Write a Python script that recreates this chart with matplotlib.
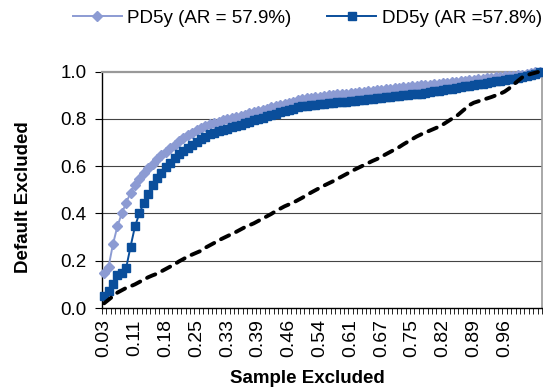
import numpy as np
import matplotlib
matplotlib.use("Agg")
import matplotlib.pyplot as plt
from matplotlib.ticker import FixedLocator

plt.rcParams['font.family'] = ['Liberation Sans', 'DejaVu Sans']

# x category labels (every 7th category is labelled)
tick_labels = ["0.03", "0.11", "0.18", "0.25", "0.33", "0.39", "0.46",
               "0.54", "0.61", "0.67", "0.75", "0.82", "0.89", "0.96"]
label_step = 7
n_cat = 100

pd5y = [0.150, 0.175, 0.270, 0.345, 0.400, 0.445, 0.488, 0.520, 0.545, 0.570,
        0.590, 0.610, 0.630, 0.647, 0.661, 0.675, 0.690, 0.705, 0.720, 0.732,
        0.742, 0.752, 0.760, 0.768, 0.776, 0.782, 0.787, 0.793, 0.798, 0.803,
        0.808, 0.813, 0.818, 0.823, 0.828, 0.833, 0.838, 0.843, 0.848, 0.853,
        0.858, 0.863, 0.868, 0.873, 0.878, 0.883, 0.886, 0.889, 0.892, 0.894,
        0.897, 0.899, 0.901, 0.903, 0.905, 0.907, 0.909, 0.911, 0.913, 0.915,
        0.917, 0.919, 0.921, 0.923, 0.925, 0.927, 0.929, 0.931, 0.933, 0.935,
        0.937, 0.939, 0.941, 0.943, 0.945, 0.947, 0.949, 0.951, 0.953, 0.955,
        0.957, 0.959, 0.961, 0.963, 0.965, 0.967, 0.969, 0.971, 0.973, 0.975,
        0.977, 0.979, 0.981, 0.983, 0.985, 0.987, 0.990, 0.993, 0.996, 1.000]

dd5y = [0.050, 0.070, 0.100, 0.140, 0.150, 0.170, 0.260, 0.345, 0.400, 0.445,
        0.480, 0.520, 0.548, 0.570, 0.595, 0.615, 0.635, 0.652, 0.665, 0.678,
        0.690, 0.703, 0.715, 0.725, 0.735, 0.741, 0.747, 0.753, 0.759, 0.765,
        0.770, 0.775, 0.781, 0.787, 0.794, 0.800, 0.805, 0.811, 0.817, 0.822,
        0.828, 0.833, 0.838, 0.843, 0.848, 0.853, 0.855, 0.857, 0.859, 0.861,
        0.863, 0.865, 0.867, 0.869, 0.871, 0.873, 0.875, 0.877, 0.879, 0.881,
        0.883, 0.885, 0.887, 0.889, 0.891, 0.893, 0.895, 0.897, 0.899, 0.901,
        0.903, 0.905, 0.907, 0.910, 0.913, 0.916, 0.919, 0.922, 0.925, 0.928,
        0.931, 0.934, 0.937, 0.940, 0.943, 0.946, 0.949, 0.952, 0.955, 0.958,
        0.961, 0.964, 0.967, 0.970, 0.973, 0.977, 0.981, 0.986, 0.991, 0.997]

naive = [0.020, 0.035, 0.050, 0.065, 0.075, 0.085, 0.092, 0.100, 0.110, 0.120,
         0.130, 0.138, 0.145, 0.155, 0.165, 0.175, 0.185, 0.197, 0.207, 0.218,
         0.226, 0.234, 0.242, 0.255, 0.265, 0.275, 0.286, 0.295, 0.304, 0.313,
         0.322, 0.332, 0.342, 0.350, 0.358, 0.368, 0.378, 0.388, 0.398, 0.410,
         0.420, 0.430, 0.438, 0.446, 0.456, 0.466, 0.477, 0.488, 0.498, 0.508,
         0.518, 0.527, 0.536, 0.546, 0.556, 0.566, 0.576, 0.586, 0.595, 0.604,
         0.613, 0.622, 0.630, 0.640, 0.650, 0.660, 0.670, 0.680, 0.692, 0.703,
         0.714, 0.725, 0.734, 0.742, 0.750, 0.758, 0.766, 0.776, 0.788, 0.800,
         0.810, 0.826, 0.842, 0.858, 0.868, 0.874, 0.880, 0.886, 0.892, 0.899,
         0.906, 0.915, 0.928, 0.944, 0.960, 0.975, 0.984, 0.990, 0.995, 1.000]

light = "#8C9BD3"
dark = "#0A4E9B"

fig = plt.figure(figsize=(5.43, 3.87), dpi=100)
ax = fig.add_axes([0.1878, 0.2041, 0.8103, 0.6111])

x = np.arange(n_cat)
ax.plot(x, pd5y, color=light, lw=1.4, marker="D", ms=4.6, mec=light, mfc=light,
        label="PD5y (AR = 57.9%)", clip_on=False, zorder=3)
ax.plot(x, dd5y, color=dark, lw=1.4, marker="s", ms=6.3, mec=dark, mfc=dark,
        label="DD5y (AR =57.8%)", clip_on=False, zorder=4)
ax.plot(x, naive, color="black", lw=2.8, dashes=(2.3, 2.0),
        dash_capstyle="round", clip_on=False, zorder=5)

ax.set_xlim(-0.5, n_cat - 0.5)
ax.set_ylim(0, 1.0)

# y axis
ax.set_yticks([0, 0.2, 0.4, 0.6, 0.8, 1.0])
ax.set_yticklabels(["0.0", "0.2", "0.4", "0.6", "0.8", "1.0"], fontsize=13.5)
ax.tick_params(axis="y", direction="out", length=5, width=0.8, pad=6)
for yv in [0.2, 0.4, 0.6, 0.8]:
    ax.axhline(yv, color="#444444", lw=0.8, zorder=1)

# x axis, category style
ax.set_xticks(list(range(0, len(tick_labels) * label_step, label_step)))
ax.set_xticklabels(tick_labels, rotation=90, fontsize=14)
ax.xaxis.set_minor_locator(FixedLocator(np.arange(n_cat + 1) - 0.5))
ax.tick_params(axis="x", which="major", length=0, pad=8)
ax.tick_params(axis="x", which="minor", direction="out", length=4, width=0.6)

for side in ["left", "bottom"]:
    ax.spines[side].set_color("black")
    ax.spines[side].set_linewidth(1.0)
ax.spines["top"].set_color("#999999")
ax.spines["top"].set_linewidth(1.6)
ax.spines["right"].set_color("#999999")
ax.spines["right"].set_linewidth(1.2)

ax.set_ylabel("Default Excluded", fontsize=13.5, fontweight="bold")
ax.yaxis.set_label_coords(-0.159, 0.469)
ax.set_xlabel("Sample Excluded", fontsize=13.5, fontweight="bold")
ax.xaxis.set_label_coords(0.466, -0.262)

fig.legend(loc="upper left", bbox_to_anchor=(73 / 543, 0.975), ncol=2,
           frameon=False, fontsize=13.5, handlelength=2.6, handletextpad=0.3,
           columnspacing=1.9, borderpad=0, borderaxespad=0)

fig.savefig("out.png", dpi=100)
